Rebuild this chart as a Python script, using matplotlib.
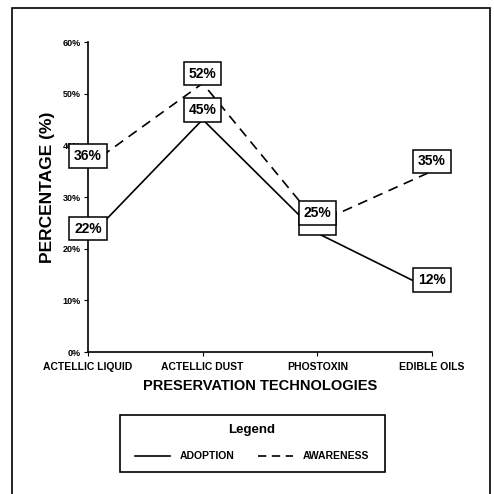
import matplotlib.pyplot as plt
from matplotlib.lines import Line2D
from matplotlib.patches import Rectangle

plt.rcParams["font.family"] = ["Liberation Sans Narrow", "Liberation Sans", "DejaVu Sans"]
plt.rcParams["font.weight"] = "bold"

categories = ["ACTELLIC LIQUID", "ACTELLIC DUST", "PHOSTOXIN", "EDIBLE OILS"]
adoption   = [22, 45, 23, 12]
awareness  = [36, 52, 25, 35]
y_ticks    = [0, 10, 20, 30, 40, 50, 60]
# adoption label at PHOSTOXIN is hidden under the awareness box in the source
adoption_hidden = [False, False, True, False]

fig = plt.figure(figsize=(4.94, 4.94), dpi=100)
fig.patches.append(Rectangle((12 / 494, -0.01), 478 / 494, 1 - 8 / 494 + 0.01,
                             transform=fig.transFigure, fill=False,
                             edgecolor="black", linewidth=1.2))

ax = fig.add_axes([88 / 494, 142 / 494, 344 / 494, 310 / 494])
x = list(range(len(categories)))

ax.plot(x, adoption, color="black", linewidth=1.2, linestyle="-", zorder=2)
ax.plot(x, awareness, color="black", linewidth=1.2, linestyle=(0, (6, 4)), zorder=2)

box = dict(boxstyle="square,pad=0.35", facecolor="white", edgecolor="black", linewidth=1.1)
# adoption labels first so awareness boxes sit on top
for xi, v, hid in zip(x, adoption, adoption_hidden):
    txt = " " * 7 if hid else f"{v}%"
    ax.annotate(txt, (xi, v), xytext=(0, 7), textcoords="offset points",
                ha="center", va="center", fontsize=10, fontweight="bold",
                bbox=box, zorder=3)
for xi, v in zip(x, awareness):
    ax.annotate(f"{v}%", (xi, v), xytext=(0, 7), textcoords="offset points",
                ha="center", va="center", fontsize=10, fontweight="bold",
                bbox=box, zorder=4)

ax.set_xlim(0, 3)
ax.set_ylim(0, 60)
ax.set_yticks(y_ticks)
ax.set_yticklabels([f"{t}%" for t in y_ticks], fontsize=6.5, fontweight="bold")
ax.set_xticks(x)
ax.set_xticklabels(categories, fontsize=7.5, fontweight="bold")
ax.tick_params(axis="y", length=3, width=0.8, pad=2)
ax.tick_params(axis="x", length=3, width=0.8, pad=4)
for s in ["top", "right"]:
    ax.spines[s].set_visible(False)
for s in ["left", "bottom"]:
    ax.spines[s].set_linewidth(1.2)

ax.set_xlabel("PRESERVATION TECHNOLOGIES", fontsize=10.5, fontweight="bold", labelpad=5)
ax.set_ylabel("PERCENTAGE (%)", fontsize=12.5, fontweight="bold")
ax.yaxis.set_label_coords(-0.095, 0.53)

# legend box
fig.patches.append(Rectangle((120 / 494, 22 / 494), 265 / 494, 57 / 494,
                             transform=fig.transFigure, fill=False,
                             edgecolor="black", linewidth=1.2))
fig.text(252 / 494, 1 - 430 / 494, "Legend", ha="center", va="center",
         fontsize=9.5, fontweight="bold")
ly = 1 - 456 / 494
fig.lines.append(Line2D([135 / 494, 170 / 494], [ly, ly], transform=fig.transFigure,
                        color="black", linewidth=1.2))
fig.text(180 / 494, ly, "ADOPTION", ha="left", va="center", fontsize=7.5, fontweight="bold")
fig.lines.append(Line2D([258 / 494, 293 / 494], [ly, ly], transform=fig.transFigure,
                        color="black", linewidth=1.2, linestyle=(0, (5, 3.3))))
fig.text(303 / 494, ly, "AWARENESS", ha="left", va="center", fontsize=7.5, fontweight="bold")

fig.savefig("out.png", dpi=100)
